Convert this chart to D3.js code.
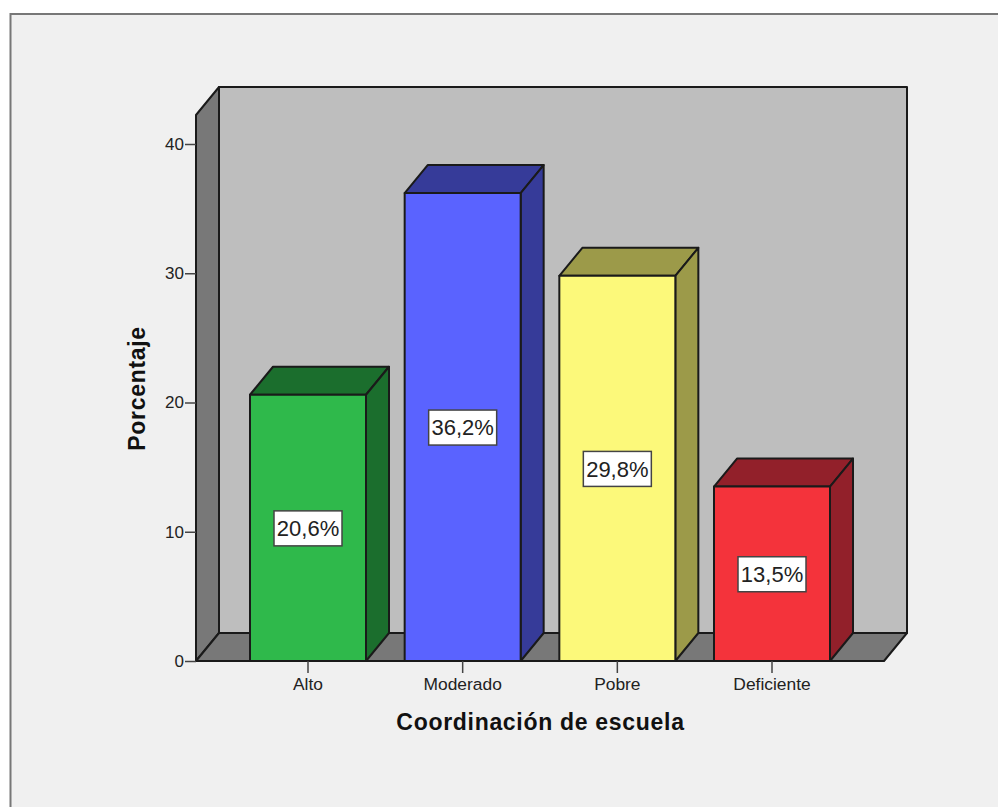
<!DOCTYPE html>
<html><head><meta charset="utf-8">
<script src="https://cdn.jsdelivr.net/npm/d3@7/dist/d3.min.js"></script>
<style>html,body{margin:0;padding:0;background:#fff;overflow:hidden}svg{display:block}text{font-family:"Liberation Sans",Arial,sans-serif;fill:#222}</style>
</head><body><svg id="c" width="998" height="807"></svg>
<script>
const categories = ["Alto","Moderado","Pobre","Deficiente"];
const values = [20.6,36.2,29.8,13.5];
const valueLabels = ["20,6%","36,2%","29,8%","13,5%"];
const frontColors = ["#2fb94b","#5a63ff","#fcf97a","#f4333b"];
const sideColors = ["#1b6e2d","#363b99","#9c9a49","#92202a"];
const yTicks = [0,10,20,30,40];
const xTitle = "Coordinación de escuela";
const yTitle = "Porcentaje";

const svg = d3.select("#c");
const dx = 23, dy = 28;
const y = d3.scaleLinear().domain([0,40]).range([661,144]);
const x = d3.scaleBand().domain(categories).range([250,830]).paddingInner(0.25);
const L = 196, R = 884, B = y(0), T = 115;
const line = "#1a1a1a";

svg.append("rect").attr("x",10.5).attr("y",14).attr("width",1000).attr("height",810)
  .attr("fill","#f0f0f0").attr("stroke","#777").attr("stroke-width",2);

const poly = (pts,fill,sw=2)=>svg.append("polygon").attr("points",pts.map(p=>p.join(",")).join(" "))
  .attr("fill",fill).attr("stroke",line).attr("stroke-width",sw).attr("stroke-linejoin","round");

poly([[L+dx,T-dy],[R+dx,T-dy],[R+dx,B-dy],[L+dx,B-dy]],"#bebebe");
poly([[L,T],[L+dx,T-dy],[L+dx,B-dy],[L,B]],"#787878");
poly([[L,B],[L+dx,B-dy],[R+dx,B-dy],[R,B]],"#787878");

const bars = svg.append("g").selectAll("g").data(categories).join("g");
bars.each(function(c,i){
  const g = d3.select(this), x0 = x(c), x1 = x0+x.bandwidth(), t = y(values[i]);
  const p = (pts,fill)=>g.append("polygon").attr("points",pts.map(q=>q.join(",")).join(" "))
    .attr("fill",fill).attr("stroke",line).attr("stroke-width",2).attr("stroke-linejoin","round");
  p([[x0,t],[x0+dx,t-dy],[x1+dx,t-dy],[x1,t]],sideColors[i]);
  p([[x1,t],[x1+dx,t-dy],[x1+dx,B-dy],[x1,B]],sideColors[i]);
  p([[x0,t],[x1,t],[x1,B],[x0,B]],frontColors[i]);
});

const yAxis = svg.append("g").attr("transform",`translate(${L},0)`)
  .call(d3.axisLeft(y).tickValues(yTicks).tickSize(11).tickPadding(1));
yAxis.select(".domain").remove();
yAxis.selectAll("line").attr("stroke","#444").attr("stroke-width",1.5);
yAxis.selectAll("text").attr("font-size",17).attr("font-family",null).style("font-family",'"Liberation Sans",Arial,sans-serif').attr("fill","#222");

const xAxis = svg.append("g").attr("transform",`translate(0,${B})`)
  .call(d3.axisBottom(x).tickSize(12).tickPadding(5));
xAxis.select(".domain").remove();
xAxis.selectAll("line").attr("stroke","#444").attr("stroke-width",1.5);
xAxis.selectAll("text").attr("font-size",17.4).attr("font-family",null).style("font-family",'"Liberation Sans",Arial,sans-serif').attr("fill","#222");

const lab = svg.append("g").selectAll("g").data(categories).join("g")
  .attr("transform",(c,i)=>`translate(${x(c)+x.bandwidth()/2},${y(values[i]/2)})`);
lab.append("rect").attr("x",-34).attr("y",-17).attr("width",68).attr("height",35)
  .attr("fill","#fff").attr("stroke","#444").attr("stroke-width",1.5);
lab.append("text").attr("text-anchor","middle").attr("dy","0.38em").attr("font-size",22)
  .text((c,i)=>valueLabels[i]);

svg.append("text").attr("x",540.5).attr("y",729.5).attr("text-anchor","middle")
  .attr("font-size",23).attr("font-weight","bold").attr("letter-spacing",0.7).style("fill","#111").text(xTitle);
svg.append("text").attr("transform","translate(144.5,388.5) rotate(-90)").attr("text-anchor","middle")
  .attr("font-size",23).attr("font-weight","bold").attr("letter-spacing",0.7).style("fill","#111").text(yTitle);
</script></body></html>
